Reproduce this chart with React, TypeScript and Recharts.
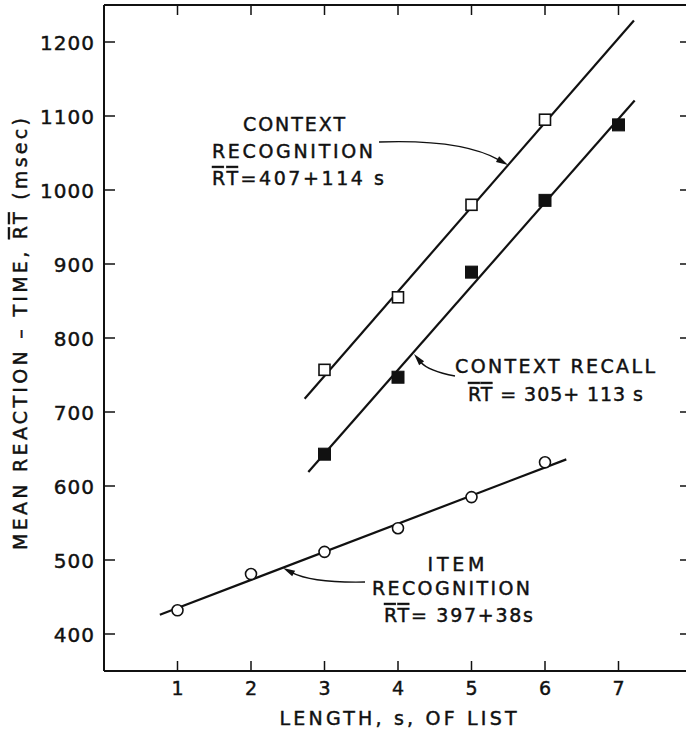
import React from "react";
import {
  ComposedChart,
  XAxis,
  YAxis,
  Line,
  Scatter,
  Customized,
} from "recharts";

// ---- data ----
const X_TICKS = [1, 2, 3, 4, 5, 6, 7];
const Y_TICKS = [400, 500, 600, 700, 800, 900, 1000, 1100, 1200];

const S_CTX_RECOG = [3, 4, 5, 6];
const RT_CTX_RECOG = [757, 855, 980, 1095];

const S_CTX_RECALL = [3, 4, 5, 6, 7];
const RT_CTX_RECALL = [643, 747, 889, 986, 1088];

const S_ITEM = [1, 2, 3, 4, 5, 6];
const RT_ITEM = [432, 481, 511, 543, 585, 632];

// fitted lines (end points as drawn)
const FIT_RECOG_S = [2.73, 7.21];
const FIT_RECOG_RT = [718, 1229];
const FIT_RECALL_S = [2.78, 7.22];
const FIT_RECALL_RT = [619, 1121];
const FIT_ITEM_S = [0.76, 6.29];
const FIT_ITEM_RT = [426, 636];

const zip = (s: number[], v: number[]) => s.map((x, i) => ({ s: x, v: v[i] }));

const ctxRecog = zip(S_CTX_RECOG, RT_CTX_RECOG);
const ctxRecall = zip(S_CTX_RECALL, RT_CTX_RECALL);
const item = zip(S_ITEM, RT_ITEM);
const fitRecog = zip(FIT_RECOG_S, FIT_RECOG_RT);
const fitRecall = zip(FIT_RECALL_S, FIT_RECALL_RT);
const fitItem = zip(FIT_ITEM_S, FIT_ITEM_RT);

// ---- layout ----
const W = 700;
const H = 731;
const M = { top: 0, left: 0, right: 0, bottom: 0 };
const FONT = "'DejaVu Sans', sans-serif";
const INK = "#111";
const TXT = { fontFamily: FONT, fill: INK, stroke: INK, strokeWidth: 0.45 };

const openSquare = (p: any) => (
  <rect x={p.cx - 5.5} y={p.cy - 5.5} width={11} height={11} fill="#fff" stroke={INK} strokeWidth={1.6} />
);
const filledSquare = (p: any) => (
  <rect x={p.cx - 6} y={p.cy - 6} width={12} height={12} fill={INK} stroke={INK} strokeWidth={1} />
);
const openCircle = (p: any) => (
  <circle cx={p.cx} cy={p.cy} r={5.5} fill="#fff" stroke={INK} strokeWidth={1.6} />
);

const BottomTick = (p: any) => (
  <g>
    <line x1={p.x} x2={p.x} y1={p.y} y2={p.y - 10} stroke={INK} strokeWidth={1.5} />
    <text x={p.x} y={p.y + 24} textAnchor="middle" fontSize={19} {...TXT}>
      {p.payload.value}
    </text>
  </g>
);
const TopTick = (p: any) => (
  <line x1={p.x} x2={p.x} y1={p.y} y2={p.y + 10} stroke={INK} strokeWidth={1.5} />
);
const LeftTick = (p: any) => (
  <g>
    <line x1={p.x} x2={p.x + 11} y1={p.y} y2={p.y} stroke={INK} strokeWidth={1.5} />
    <text x={p.x - 9} y={p.y + 7.5} textAnchor="end" fontSize={20} letterSpacing={1} {...TXT}>
      {p.payload.value}
    </text>
  </g>
);
const RightTick = (p: any) => (
  <line x1={p.x} x2={p.x - 12} y1={p.y} y2={p.y} stroke={INK} strokeWidth={1.5} />
);

const Arrow = ({ x0, y0, cx, cy, x1, y1 }: any) => {
  const dx = x1 - cx;
  const dy = y1 - cy;
  const len = Math.sqrt(dx * dx + dy * dy);
  const ux = dx / len;
  const uy = dy / len;
  const L = 12;
  const Wd = 3.2;
  const bx = x1 - ux * L;
  const by = y1 - uy * L;
  const pts = `${x1},${y1} ${bx - uy * Wd},${by + ux * Wd} ${bx + uy * Wd},${by - ux * Wd}`;
  return (
    <g>
      <path d={`M${x0},${y0} Q${cx},${cy} ${bx + ux * 2},${by + uy * 2}`} fill="none" stroke={INK} strokeWidth={1.4} />
      <polygon points={pts} fill={INK} />
    </g>
  );
};

const T = (props: any) => <text fontSize={19} lengthAdjust="spacing" {...TXT} {...props} />;
const OL = { textDecoration: "overline" } as any;

const Annotations = () => (
  <g>
    {/* y-axis title */}
    <text
      transform="translate(27,334) rotate(-90)"
      textAnchor="middle"
      fontSize={19}
      textLength={432}
      lengthAdjust="spacing"
      {...TXT}
    >
      MEAN REACTION – TIME, <tspan style={OL}>RT</tspan> (msec)
    </text>
    {/* x-axis title */}
    <T x={398} y={725} textAnchor="middle" textLength={237}>
      LENGTH, s, OF LIST
    </T>

    {/* context recognition */}
    <T x={294} y={131} textAnchor="middle" textLength={102}>CONTEXT</T>
    <T x={212} y={158} textLength={161}>RECOGNITION</T>
    <T x={212} y={185} textLength={172}>
      <tspan style={OL}>RT</tspan>=407+114 s
    </T>
    <Arrow x0={379} y0={142} cx={462} cy={139} x1={508} y1={165} />

    {/* context recall */}
    <T x={455} y={373} textLength={200}>CONTEXT RECALL</T>
    <T x={468} y={401} textLength={175}>
      <tspan style={OL}>RT</tspan> = 305+ 113 s
    </T>
    <Arrow x0={455} y0={376} cx={428} cy={371} x1={414} y1={354} />

    {/* item recognition */}
    <T x={456} y={571} textAnchor="middle" textLength={57}>ITEM</T>
    <T x={372} y={595} textLength={158}>RECOGNITION</T>
    <T x={384} y={622} textLength={149}>
      <tspan style={OL}>RT</tspan>= 397+38s
    </T>
    <Arrow x0={365} y0={582} cx={312} cy={583} x1={283} y1={568} />
  </g>
);

export default function App() {
  return (
    <div style={{ position: "absolute", left: 0, top: 0, width: 686, height: 731, overflow: "hidden", background: "#fff" }}>
      <ComposedChart width={W} height={H} margin={M}>
        <XAxis
          xAxisId={0}
          dataKey="s"
          type="number"
          domain={[0, 8]}
          ticks={X_TICKS}
          allowDataOverflow
          height={60}
          tickSize={0}
          tickMargin={0}
          tickLine={false}
          tick={BottomTick}
          axisLine={{ stroke: INK, strokeWidth: 2 }}
        />
        <XAxis
          xAxisId="top"
          orientation="top"
          dataKey="s"
          type="number"
          domain={[0, 8]}
          ticks={X_TICKS}
          allowDataOverflow
          height={5}
          tickSize={0}
          tickMargin={0}
          tickLine={false}
          tick={TopTick}
          axisLine={{ stroke: INK, strokeWidth: 2 }}
        />
        <YAxis
          yAxisId={0}
          type="number"
          domain={[350, 1250]}
          ticks={Y_TICKS}
          allowDataOverflow
          width={104}
          tickSize={0}
          tickMargin={0}
          tickLine={false}
          tick={LeftTick}
          axisLine={{ stroke: INK, strokeWidth: 2 }}
        />
        <YAxis
          yAxisId="right"
          orientation="right"
          type="number"
          domain={[350, 1250]}
          ticks={Y_TICKS}
          allowDataOverflow
          width={8}
          tickSize={0}
          tickMargin={0}
          tickLine={false}
          tick={RightTick}
          axisLine={false}
        />

        <Line data={fitRecog} dataKey="v" type="linear" stroke={INK} strokeWidth={2.2} dot={false} isAnimationActive={false} />
        <Line data={fitRecall} dataKey="v" type="linear" stroke={INK} strokeWidth={2.2} dot={false} isAnimationActive={false} />
        <Line data={fitItem} dataKey="v" type="linear" stroke={INK} strokeWidth={2.2} dot={false} isAnimationActive={false} />

        <Scatter data={ctxRecog} dataKey="v" shape={openSquare} isAnimationActive={false} />
        <Scatter data={ctxRecall} dataKey="v" shape={filledSquare} isAnimationActive={false} />
        <Scatter data={item} dataKey="v" shape={openCircle} isAnimationActive={false} />

        <Customized component={Annotations} />
      </ComposedChart>
    </div>
  );
}
